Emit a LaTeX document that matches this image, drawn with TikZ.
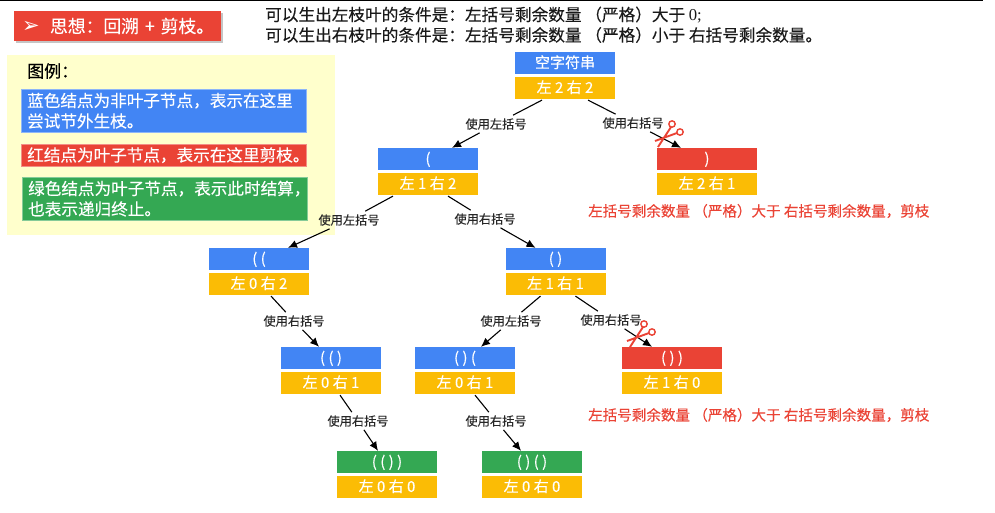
\documentclass[tikz,border=0pt]{standalone}
\usepackage{fontspec}
\setmainfont{Noto Sans CJK SC}[FakeBold=0.2]
\newfontfamily\symfont{DejaVu Sans}
\newfontfamily\numfont{Liberation Serif}
\usetikzlibrary{positioning,arrows.meta,shadows}
\definecolor{gblue}{HTML}{4285F4}
\definecolor{gred}{HTML}{EA4335}
\definecolor{ggreen}{HTML}{34A853}
\definecolor{gyellow}{HTML}{FBBC05}
\definecolor{legendbg}{HTML}{FFFFCC}
\tikzset{
    treebox/.style={minimum width=100pt,minimum height=22pt,inner sep=0pt,text=white,
        text height=13pt,text depth=3pt,font=\fontsize{15}{16}\selectfont},
    bluebox/.style={treebox,fill=gblue},
    redbox/.style={treebox,fill=gred},
    greenbox/.style={treebox,fill=ggreen},
    yellowbox/.style={treebox,fill=gyellow,below=2.5pt of #1},
    uselabel/.style={inner xsep=1pt,inner ysep=3pt,text=black!85,font=\fontsize{12.2}{14}\selectfont},
    legendbox/.style={draw=#1!60!white,fill=#1,text=white,text width=273pt,inner xsep=6pt,inner ysep=0pt,
        align=left,anchor=north west,font=\fontsize{16.6}{20.5}\selectfont},
    toptext/.style={anchor=west,inner sep=0pt,text=black!90,font=\fontsize{16.65}{20}\selectfont},
    rednote/.style={anchor=west,inner sep=0pt,text=gred,font=\fontsize{14.55}{16}\selectfont},
    edge/.style={line width=1.1pt,black},
    arr/.style={edge,-{Latex[length=9pt,width=8pt]}},
    scissors/.pic={
        \draw[gred,line width=1.4pt] (3,-10) circle (3.2) (11,-2) circle (3.2);
        \draw[gred,line width=1.9pt] (2,-7) -- (-11,13) (8,-1) -- (-14,7);
    }
}
\begin{document}
\begin{tikzpicture}[x=1pt,y=-1pt]
    \useasboundingbox (0,0) rectangle (995,512);
    \draw[line width=1.5pt] (0,0.5) -- (983,0.5);

    % Title and conditions
    \node[fill=gred,text=white,minimum height=30pt,text width=207pt,inner sep=0pt,align=left,
        font=\fontsize{17.8}{20}\selectfont,drop shadow={shadow xshift=2pt,shadow yshift=-2pt,fill=black!45}]
        (title) at (117.5,26) {\hspace*{8pt}\makebox[28pt][l]{\symfont\fontsize{21}{20}\selectfont ➢}思想：回溯 + 剪枝。};
    \node[toptext] (cond1) at (265,15) {可以生出左枝叶的条件是：左括号剩余数量 （严格）大于 {\numfont 0;}};
    \node[toptext] (cond2) at (265,35) {可以生出右枝叶的条件是：左括号剩余数量 （严格）小于 右括号剩余数量。};

    % Legend
    \node[fill=legendbg,minimum width=328pt,minimum height=180pt,inner sep=0pt,anchor=north west] (legend) at (7,55) {};
    \node[anchor=west,inner sep=0pt,font=\fontsize{17}{18}\selectfont] (legendtitle) at (27,71) {图例：};
    \node[legendbox=gblue,minimum height=43pt] (legblue) at (21,89) {蓝色结点为非叶子节点，表示在这里\\尝试节外生枝。};
    \node[legendbox=gred,minimum height=22pt] (legred) at (21,144) {红结点为叶子节点，表示在这里剪枝。};
    \node[legendbox=ggreen,minimum height=43pt] (leggreen) at (22,177) {绿色结点为叶子节点，表示此时结算，\\也表示递归终止。};

    % Tree nodes
    \node[bluebox] (root) at (565,63) {空字符串};
    \node[yellowbox=root] (rootn) {左 2 右 2};
    \node[bluebox] (l) at (428,159) {(};
    \node[yellowbox=l] (ln) {左 1 右 2};
    \node[redbox] (r) at (707,159) {)};
    \node[yellowbox=r] (rn) {左 2 右 1};
    \node[bluebox] (ll) at (259,259) {( (};
    \node[yellowbox=ll] (lln) {左 0 右 2};
    \node[bluebox] (lr) at (555.5,259) {( )};
    \node[yellowbox=lr] (lrn) {左 1 右 1};
    \node[bluebox] (llr) at (331,358) {( ( )};
    \node[yellowbox=llr] (llrn) {左 0 右 1};
    \node[bluebox] (lrl) at (465,358) {( ) (};
    \node[yellowbox=lrl] (lrln) {左 0 右 1};
    \node[redbox] (lrr) at (672,358) {( ) )};
    \node[yellowbox=lrr] (lrrn) {左 1 右 0};
    \node[greenbox] (llrr) at (387,462) {( ( ) )};
    \node[yellowbox=llrr] (llrrn) {左 0 右 0};
    \node[greenbox] (lrlr) at (532,462) {( ) ( )};
    \node[yellowbox=lrlr] (lrlrn) {左 0 右 0};

    % Edge labels
    \node[uselabel] (a1) at (496,124) {使用左括号};
    \node[uselabel] (a2) at (633,123) {使用右括号};
    \node[uselabel] (a3) at (349,220) {使用左括号};
    \node[uselabel] (a4) at (485,219) {使用右括号};
    \node[uselabel] (a5) at (294,321) {使用右括号};
    \node[uselabel] (a6) at (511,321) {使用左括号};
    \node[uselabel] (a7) at (611,320) {使用右括号};
    \node[uselabel] (a8) at (358,421) {使用右括号};
    \node[uselabel] (a9) at (496,421) {使用右括号};

    % Edges
    \draw[edge] ([xshift=-23pt,yshift=-1pt]rootn.south) -- (a1);
    \draw[arr] (a1) -- ([xshift=24pt]l.north);
    \draw[edge] ([xshift=23pt,yshift=-1pt]rootn.south) -- (a2);
    \draw[arr] (a2) -- ([xshift=-26pt]r.north);
    \draw[edge] ([xshift=-35pt,yshift=-1pt]ln.south) -- (a3);
    \draw[arr] (a3) -- ([xshift=29pt]ll.north);
    \draw[edge] ([xshift=20pt,yshift=-1pt]ln.south) -- (a4);
    \draw[arr] (a4) -- ([xshift=-20pt]lr.north);
    \draw[edge] ([xshift=12pt,yshift=-1pt]lln.south) -- (a5);
    \draw[arr] (a5) -- ([xshift=-12pt]llr.north);
    \draw[edge] ([xshift=-15pt,yshift=-1pt]lrn.south) -- (a6);
    \draw[arr] (a6) -- ([xshift=16pt]lrl.north);
    \draw[edge] ([xshift=20pt,yshift=-1pt]lrn.south) -- (a7);
    \draw[arr] (a7) -- ([xshift=-20pt]lrr.north);
    \draw[edge] ([xshift=9pt,yshift=-1pt]llrn.south) -- (a8);
    \draw[arr] (a8) -- ([xshift=-9pt]llrr.north);
    \draw[edge] ([xshift=10pt,yshift=-1pt]lrln.south) -- (a9);
    \draw[arr] (a9) -- ([xshift=-11pt]lrlr.north);

    % Pruning
    \pic at (669,134) {scissors};
    \pic at (641,334) {scissors};
    \node[rednote] (note1) at (588,211) {左括号剩余数量 （严格）大于 右括号剩余数量，剪枝};
    \node[rednote] (note2) at (588,415) {左括号剩余数量 （严格）大于 右括号剩余数量，剪枝};
\end{tikzpicture}
\end{document}
